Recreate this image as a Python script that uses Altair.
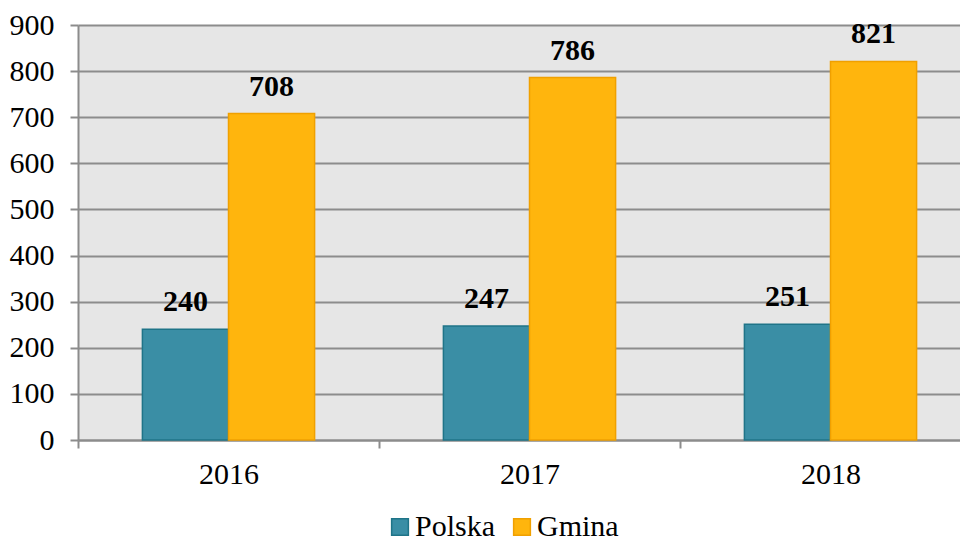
import altair as alt
import pandas as pd

years = ["2016", "2017", "2018"]
polska = [240, 247, 251]
gmina = [708, 786, 821]
series = ["Polska", "Gmina"]
colors = ["#3A8EA5", "#FFB50D"]
strokes = ["#1F7488", "#F0A000"]

rows = []
for i, y in enumerate(years):
    rows.append({"year": y, "series": "Polska", "value": polska[i]})
    rows.append({"year": y, "series": "Gmina", "value": gmina[i]})
df = pd.DataFrame(rows)

FONT = "Times New Roman, Liberation Serif, serif"

x = alt.X("year:N", title=None,
          scale=alt.Scale(paddingInner=0, paddingOuter=0, range=[0, 903]),
          axis=alt.Axis(labelAngle=0, labelFontSize=30, labelFont=FONT, labelColor="black",
                        labelPadding=11, tickBand="extent", tickSize=8, tickColor="#8C8C8C",
                        tickWidth=2, domainColor="#8C8C8C", domainWidth=2, grid=False))
xo = alt.XOffset("series:N", sort=series,
                 scale=alt.Scale(domain=series, paddingInner=0, paddingOuter=0.748))
y = alt.Y("value:Q", title=None,
          scale=alt.Scale(domain=[0, 900], nice=False),
          axis=alt.Axis(values=list(range(0, 1000, 100)), labelFontSize=30, labelFont=FONT,
                        labelColor="black", labelPadding=16, tickSize=8, tickColor="#8C8C8C",
                        tickWidth=2, domainColor="#8C8C8C", domainWidth=2,
                        gridColor="#8C8C8C", gridWidth=2))

bars = alt.Chart(df).mark_bar(strokeWidth=1.5).encode(
    x=x, xOffset=xo, y=y,
    color=alt.Color("series:N", sort=series,
                    scale=alt.Scale(domain=series, range=colors),
                    legend=alt.Legend(title=None, orient="none", legendX=307, legendY=487,
                                      direction="horizontal", symbolType="square",
                                      symbolSize=280, symbolStrokeWidth=1.5,
                                      labelFontSize=30, labelFont=FONT, labelColor="black",
                                      columnPadding=11, labelOffset=0)),
    stroke=alt.Stroke("series:N", sort=series,
                      scale=alt.Scale(domain=series, range=strokes), legend=None),
)

labels = alt.Chart(df).mark_text(fontSize=30, font=FONT, fontWeight="bold", dy=-27,
                                 color="black").encode(
    x=x, xOffset=xo, y=y, text="value:Q")

chart = alt.layer(bars, labels).properties(
    width=882, height=415,
    autosize=alt.AutoSizeParams(type="none"),
    padding={"left": 70, "top": 17, "right": 0, "bottom": 110},
).configure_view(fill="#E6E6E6", stroke="transparent")

chart.save("out.html", embed_options={"renderer": "svg", "actions": False})
